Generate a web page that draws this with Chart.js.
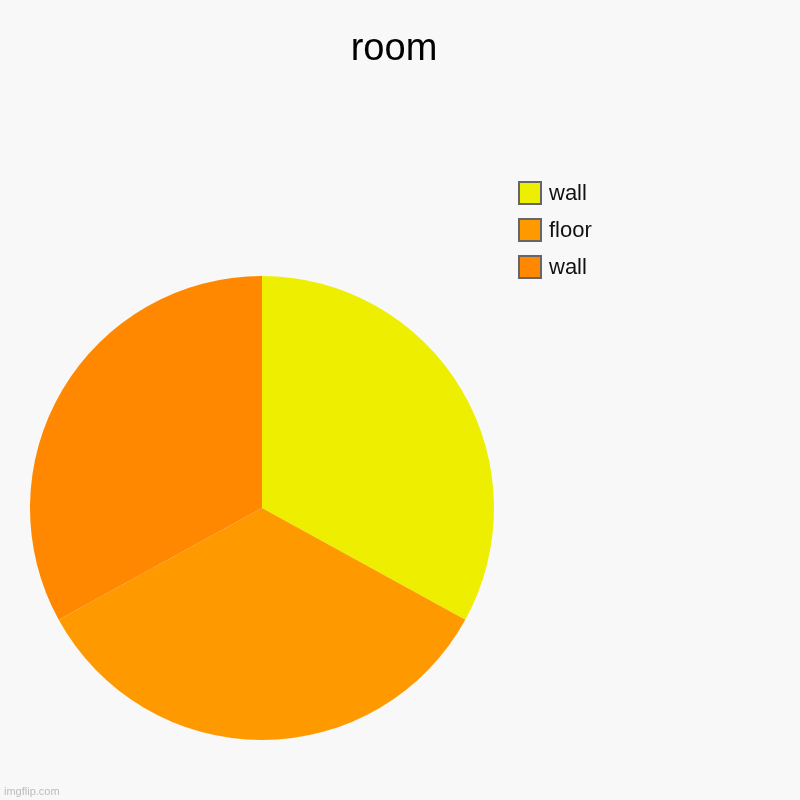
<!DOCTYPE html>
<html lang="en">
  <head>
    <meta charset="UTF-8" />
    <title>room</title>
    <script src="https://cdn.jsdelivr.net/npm/chart.js"></script>
    <style>
        html, body {
            margin: 0;
            padding: 0;
            background: #f8f8f8;
        }
        .wrap {
            position: relative;
            width: 800px;
            height: 800px;
            font-family: "Liberation Sans", Arial, sans-serif;
        }
        .title {
            position: absolute;
            top: 26px;
            left: 0;
            width: 788px;
            text-align: center;
            font-size: 38px;
            color: #000;
        }
        .legend {
            position: absolute;
            left: 518px;
            top: 181px;
        }
        .legend-item {
            display: flex;
            align-items: center;
            height: 24px;
            margin-bottom: 13px;
            font-size: 22px;
            color: #111;
        }
        .legend-box {
            width: 20px;
            height: 20px;
            border: 2px solid #666;
            margin-right: 7px;
        }
        .watermark {
            position: absolute;
            left: 4px;
            bottom: 3px;
            font-size: 11px;
            color: #bbb;
        }
        canvas {
            position: absolute;
            left: 0;
            top: 0;
        }
    </style>
  </head>

  <body>
    <div class="wrap">
        <canvas id="pieChart" width="800" height="800"></canvas>
        <div class="title">room</div>
        <div class="legend" id="legend"></div>
        <div class="watermark">imgflip.com</div>
    </div>

    <script>
        const labels = ['wall', 'floor', 'wall'];
        const values = [33, 34, 33];
        const colors = ['#eeee00', '#ff9900', '#ff8800'];

        // Build legend
        const legend = document.getElementById('legend');
        labels.forEach((label, i) => {
            const item = document.createElement('div');
            item.className = 'legend-item';
            item.innerHTML = `<div class="legend-box" style="background:${colors[i]}"></div>${label}`;
            legend.appendChild(item);
        });

        // Create pie chart
        const ctx = document.getElementById('pieChart').getContext('2d');
        new Chart(ctx, {
            type: 'pie',
            data: {
                labels: labels,
                datasets: [{
                    data: values,
                    backgroundColor: colors,
                    borderWidth: 0
                }]
            },
            options: {
                responsive: false,
                animation: false,
                layout: {
                    padding: { left: 30, right: 306, top: 276, bottom: 60 }
                },
                plugins: {
                    legend: { display: false },
                    tooltip: { enabled: false }
                }
            }
        });
    </script>
  </body>
</html>
